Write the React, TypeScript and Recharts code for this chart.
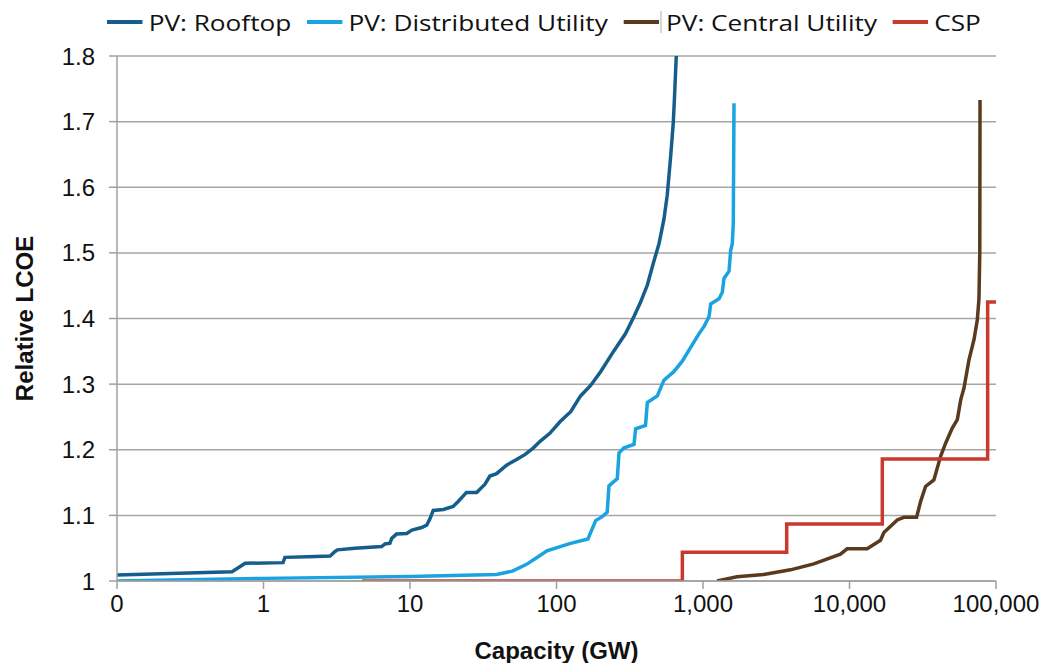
import React from 'react';
import { LineChart, Line, XAxis, YAxis, CartesianGrid, Legend } from 'recharts';

const xTicks = [0.1, 1, 10, 100, 1000, 10000, 100000];
const yTicks = [1, 1.1, 1.2, 1.3, 1.4, 1.5, 1.6, 1.7, 1.8];

const rooftop = [
  { x: 0.1, y: 1.009 }, { x: 0.61, y: 1.014 }, { x: 0.75, y: 1.027 }, { x: 1.36, y: 1.028 },
  { x: 1.4, y: 1.036 }, { x: 2.0, y: 1.037 }, { x: 2.85, y: 1.038 }, { x: 3.08, y: 1.045 },
  { x: 3.2, y: 1.0475 }, { x: 4.2, y: 1.05 }, { x: 6.4, y: 1.0525 }, { x: 6.75, y: 1.0565 },
  { x: 7.3, y: 1.0575 }, { x: 7.5, y: 1.065 }, { x: 8.1, y: 1.0715 }, { x: 9.5, y: 1.0725 },
  { x: 10.3, y: 1.0775 }, { x: 12, y: 1.0815 }, { x: 13, y: 1.085 }, { x: 13.7, y: 1.095 },
  { x: 14.4, y: 1.1075 }, { x: 16.9, y: 1.109 }, { x: 19.7, y: 1.1135 }, { x: 21.4, y: 1.1215 },
  { x: 24.3, y: 1.135 }, { x: 28.5, y: 1.135 }, { x: 32.5, y: 1.1475 }, { x: 35.1, y: 1.16 },
  { x: 39, y: 1.1635 }, { x: 45.6, y: 1.1765 }, { x: 53.4, y: 1.185 }, { x: 60.8, y: 1.1925 },
  { x: 69.3, y: 1.2025 }, { x: 76.9, y: 1.2125 }, { x: 90, y: 1.225 }, { x: 106, y: 1.243 },
  { x: 125, y: 1.258 }, { x: 146, y: 1.282 }, { x: 171, y: 1.298 }, { x: 200, y: 1.319 },
  { x: 247, y: 1.351 }, { x: 296, y: 1.377 }, { x: 338, y: 1.403 }, { x: 375, y: 1.425 },
  { x: 417, y: 1.451 }, { x: 463, y: 1.488 }, { x: 501, y: 1.514 }, { x: 541, y: 1.551 },
  { x: 570, y: 1.588 }, { x: 601, y: 1.646 }, { x: 627, y: 1.699 }, { x: 640, y: 1.741 },
  { x: 657, y: 1.8 },
];

const distributed = [
  { x: 0.1, y: 1.0 }, { x: 1, y: 1.004 }, { x: 10, y: 1.007 }, { x: 39, y: 1.01 },
  { x: 50, y: 1.015 }, { x: 62, y: 1.025 }, { x: 75, y: 1.037 }, { x: 86, y: 1.046 },
  { x: 123, y: 1.057 }, { x: 164, y: 1.064 }, { x: 185, y: 1.092 }, { x: 205, y: 1.098 },
  { x: 222, y: 1.105 }, { x: 228, y: 1.145 }, { x: 260, y: 1.156 }, { x: 267, y: 1.195 },
  { x: 289, y: 1.203 }, { x: 338, y: 1.208 }, { x: 347, y: 1.232 }, { x: 405, y: 1.237 },
  { x: 417, y: 1.272 }, { x: 488, y: 1.282 }, { x: 541, y: 1.306 }, { x: 632, y: 1.319 },
  { x: 722, y: 1.335 }, { x: 824, y: 1.356 }, { x: 940, y: 1.377 }, { x: 1017, y: 1.388 },
  { x: 1100, y: 1.403 }, { x: 1128, y: 1.422 }, { x: 1286, y: 1.43 }, { x: 1355, y: 1.44 },
  { x: 1390, y: 1.461 }, { x: 1505, y: 1.472 }, { x: 1545, y: 1.504 }, { x: 1585, y: 1.514 },
  { x: 1610, y: 1.546 }, { x: 1628, y: 1.728 },
];

const central = [
  { x: 1246, y: 1.0 }, { x: 1708, y: 1.0066 }, { x: 2600, y: 1.01 }, { x: 3953, y: 1.017 },
  { x: 5705, y: 1.026 }, { x: 8675, y: 1.041 }, { x: 9635, y: 1.049 }, { x: 13200, y: 1.049 },
  { x: 16280, y: 1.062 }, { x: 17170, y: 1.074 }, { x: 21190, y: 1.093 }, { x: 23500, y: 1.097 },
  { x: 28700, y: 1.097 }, { x: 30560, y: 1.121 }, { x: 33050, y: 1.144 }, { x: 37670, y: 1.154 },
  { x: 41870, y: 1.19 }, { x: 45300, y: 1.21 }, { x: 50300, y: 1.233 }, { x: 54450, y: 1.246 },
  { x: 57420, y: 1.276 }, { x: 60450, y: 1.294 }, { x: 65400, y: 1.337 }, { x: 70800, y: 1.368 },
  { x: 74550, y: 1.398 }, { x: 76500, y: 1.43 }, { x: 77500, y: 1.5 }, { x: 77800, y: 1.733 },
];

const csp = [
  { x: 4.7, y: 1.0 }, { x: 723, y: 1.044 }, { x: 3726, y: 1.087 }, { x: 16750, y: 1.186 },
  { x: 87700, y: 1.425 }, { x: 100000, y: 1.425 },
];

const seriesNames = ['PV: Rooftop', 'PV: Distributed Utility', 'PV: Central Utility', 'CSP'];
const seriesColors = ['#155E8C', '#19A3E0', '#5A3A1E', '#C8392E'];

const fmtX = (v: number) => (v < 1 ? '0' : v.toLocaleString('en-US'));
const fmtY = (v: number) => (v === 1 ? '1' : v.toFixed(1));

const FONT = '"Liberation Sans", Arial, sans-serif';

const LegendContent = () => (
  <div style={{ display: 'flex', alignItems: 'center', fontFamily: '"Open Sans", sans-serif', fontSize: 22, color: '#111', whiteSpace: 'nowrap', lineHeight: '28px', transform: 'scaleX(1.19)', transformOrigin: 'left center' }}>
    {seriesNames.map((n, i) => (
      <div key={n} style={{ display: 'flex', alignItems: 'center', marginRight: 13 }}>
        <svg width={30} height={6} style={{ marginRight: i === 2 ? 1 : 5 }}>
          <line x1={0} y1={3} x2={30} y2={3} stroke={seriesColors[i]} strokeWidth={4} />
        </svg>
        {i === 2 && <span style={{ display: 'inline-block', width: 1, height: 22, background: '#BBBBBB', marginRight: 4 }} />}
        <span>{n}</span>
      </div>
    ))}
  </div>
);

export default function App() {
  return (
    <div style={{ position: 'absolute', left: 0, top: 0, background: '#fff' }}>
      <LineChart width={1046} height={663} margin={{ top: 56, right: 50, left: 0, bottom: 0 }}>
        <CartesianGrid horizontal vertical={false} stroke="#A6A6A6" strokeWidth={1.5} />
        <XAxis
          dataKey="x"
          type="number"
          scale="log"
          domain={[0.1, 100000]}
          ticks={xTicks}
          tickFormatter={fmtX}
          allowDataOverflow
          height={82}
          stroke="#A0A0A0"
          strokeWidth={1.5}
          tickSize={8}
          tickMargin={6}
          tick={{ fill: '#111', fontSize: 24, fontFamily: FONT }}
          label={{ value: 'Capacity (GW)', position: 'insideBottom', offset: 4, fill: '#111', fontSize: 24, fontWeight: 'bold', fontFamily: FONT }}
        />
        <YAxis
          type="number"
          domain={[1, 1.8]}
          ticks={yTicks}
          tickFormatter={fmtY}
          allowDataOverflow
          width={117}
          stroke="#A0A0A0"
          strokeWidth={1.5}
          tickSize={8}
          tickMargin={14}
          tick={{ fill: '#111', fontSize: 24, fontFamily: FONT }}
          label={{ value: 'Relative LCOE', angle: -90, position: 'insideLeft', offset: 24, style: { textAnchor: 'middle' }, fill: '#111', fontSize: 24, fontWeight: 'bold', fontFamily: FONT }}
        />
        <Legend verticalAlign="middle" align="center" layout="horizontal" content={LegendContent} wrapperStyle={{ top: 8, left: 107, width: 'auto' }} />
        <Line data={rooftop} dataKey="y" name={seriesNames[0]} stroke={seriesColors[0]} strokeWidth={3.5} dot={false} isAnimationActive={false} type="linear" />
        <Line data={distributed} dataKey="y" name={seriesNames[1]} stroke={seriesColors[1]} strokeWidth={3.5} dot={false} isAnimationActive={false} type="linear" />
        <Line data={central} dataKey="y" name={seriesNames[2]} stroke={seriesColors[2]} strokeWidth={3.5} dot={false} isAnimationActive={false} type="linear" />
        <Line data={csp} dataKey="y" name={seriesNames[3]} stroke={seriesColors[3]} strokeWidth={3.5} dot={false} isAnimationActive={false} type="stepAfter" />
      </LineChart>
    </div>
  );
}
